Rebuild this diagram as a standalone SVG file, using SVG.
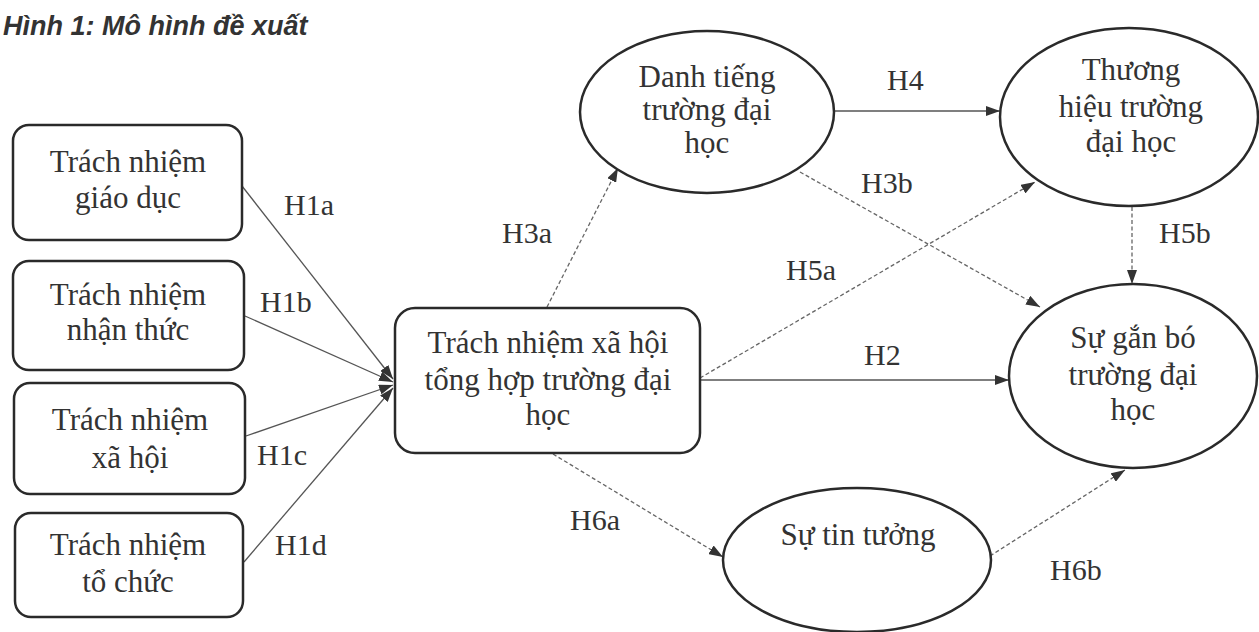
<svg xmlns="http://www.w3.org/2000/svg" width="1259" height="632" viewBox="0 0 1259 632">
<defs>
<marker id="ah" viewBox="0 0 14 10" refX="14" refY="5" markerWidth="14" markerHeight="10" markerUnits="userSpaceOnUse" orient="auto">
<path d="M0,0 L14,5 L0,10 Z" fill="#333"/>
</marker>
</defs>
<style>
.node{fill:#fff;stroke:#2a2a2a;stroke-width:2.5}
.t{font-family:"Liberation Serif","Times New Roman",serif;font-size:31px;fill:#333;text-anchor:middle}
.lbl{font-family:"Liberation Serif","Times New Roman",serif;font-size:30px;fill:#333}
.solid{fill:none;stroke:#555;stroke-width:1.3;marker-end:url(#ah)}
.dash{fill:none;stroke:#666;stroke-width:1.3;stroke-dasharray:4,2.5;marker-end:url(#ah)}
.title{font-family:"Liberation Sans",Arial,sans-serif;font-style:italic;font-weight:bold;font-size:27px;fill:#333}
</style>
<rect width="1259" height="632" fill="#fff"/>
<text class="title" x="3" y="35">Hình 1: Mô hình đề xuất</text>

<g id="connectors">
<line class="solid" x1="242" y1="186" x2="393" y2="379"/>
<line class="solid" x1="245" y1="316" x2="393" y2="382"/>
<line class="solid" x1="246" y1="436" x2="393" y2="385"/>
<line class="solid" x1="244" y1="562" x2="393" y2="388"/>
<line class="dash" x1="547" y1="307" x2="618" y2="168"/>
<line class="solid" x1="835" y1="111" x2="1000" y2="111"/>
<line class="dash" x1="800" y1="172" x2="1040" y2="307"/>
<line class="dash" x1="700" y1="378" x2="1035" y2="182"/>
<line class="dash" x1="1132" y1="207" x2="1132" y2="284"/>
<line class="solid" x1="700" y1="380" x2="1009" y2="380"/>
<line class="dash" x1="553" y1="454" x2="723" y2="557"/>
<line class="dash" x1="990" y1="556" x2="1125" y2="470"/>
</g>

<g id="labels">
<text class="lbl" x="284" y="215">H1a</text>
<text class="lbl" x="260" y="312">H1b</text>
<text class="lbl" x="257" y="465">H1c</text>
<text class="lbl" x="275" y="555">H1d</text>
<text class="lbl" x="502" y="243">H3a</text>
<text class="lbl" x="887" y="90">H4</text>
<text class="lbl" x="861" y="193">H3b</text>
<text class="lbl" x="786" y="280">H5a</text>
<text class="lbl" x="1159" y="243">H5b</text>
<text class="lbl" x="864" y="365">H2</text>
<text class="lbl" x="570" y="530">H6a</text>
<text class="lbl" x="1050" y="580">H6b</text>
</g>

<g id="n1"><rect class="node" x="13" y="125" width="229" height="115" rx="16"/>
<text class="t" x="128" y="172">Trách nhiệm</text><text class="t" x="128" y="208">giáo dục</text></g>
<g id="n2"><rect class="node" x="13" y="261" width="231" height="109" rx="16"/>
<text class="t" x="128" y="305">Trách nhiệm</text><text class="t" x="128" y="340">nhận thức</text></g>
<g id="n3"><rect class="node" x="14" y="383" width="231" height="111" rx="16"/>
<text class="t" x="130" y="430">Trách nhiệm</text><text class="t" x="130" y="468">xã hội</text></g>
<g id="n4"><rect class="node" x="15" y="513" width="228" height="104" rx="16"/>
<text class="t" x="128" y="555">Trách nhiệm</text><text class="t" x="128" y="592">tổ chức</text></g>

<g id="center"><rect class="node" x="395" y="308" width="305" height="145" rx="20"/>
<text class="t" x="548" y="353">Trách nhiệm xã hội</text>
<text class="t" x="548" y="390">tổng hợp trường đại</text>
<text class="t" x="548" y="425">học</text></g>

<g id="danhtieng"><ellipse class="node" cx="707" cy="112" rx="127" ry="81"/>
<text class="t" x="707" y="87">Danh tiếng</text><text class="t" x="707" y="120">trường đại</text><text class="t" x="707" y="153">học</text></g>

<g id="thuonghieu"><ellipse class="node" cx="1129" cy="117" rx="129" ry="89"/>
<text class="t" x="1131" y="80">Thương</text><text class="t" x="1131" y="117">hiệu trường</text><text class="t" x="1131" y="152">đại học</text></g>

<g id="ganbo"><ellipse class="node" cx="1133" cy="376" rx="124" ry="92"/>
<text class="t" x="1133" y="348">Sự gắn bó</text><text class="t" x="1133" y="385">trường đại</text><text class="t" x="1133" y="420">học</text></g>

<g id="tintuong"><ellipse class="node" cx="857" cy="560" rx="134" ry="72"/>
<text class="t" x="858" y="545">Sự tin tưởng</text></g>
</svg>
